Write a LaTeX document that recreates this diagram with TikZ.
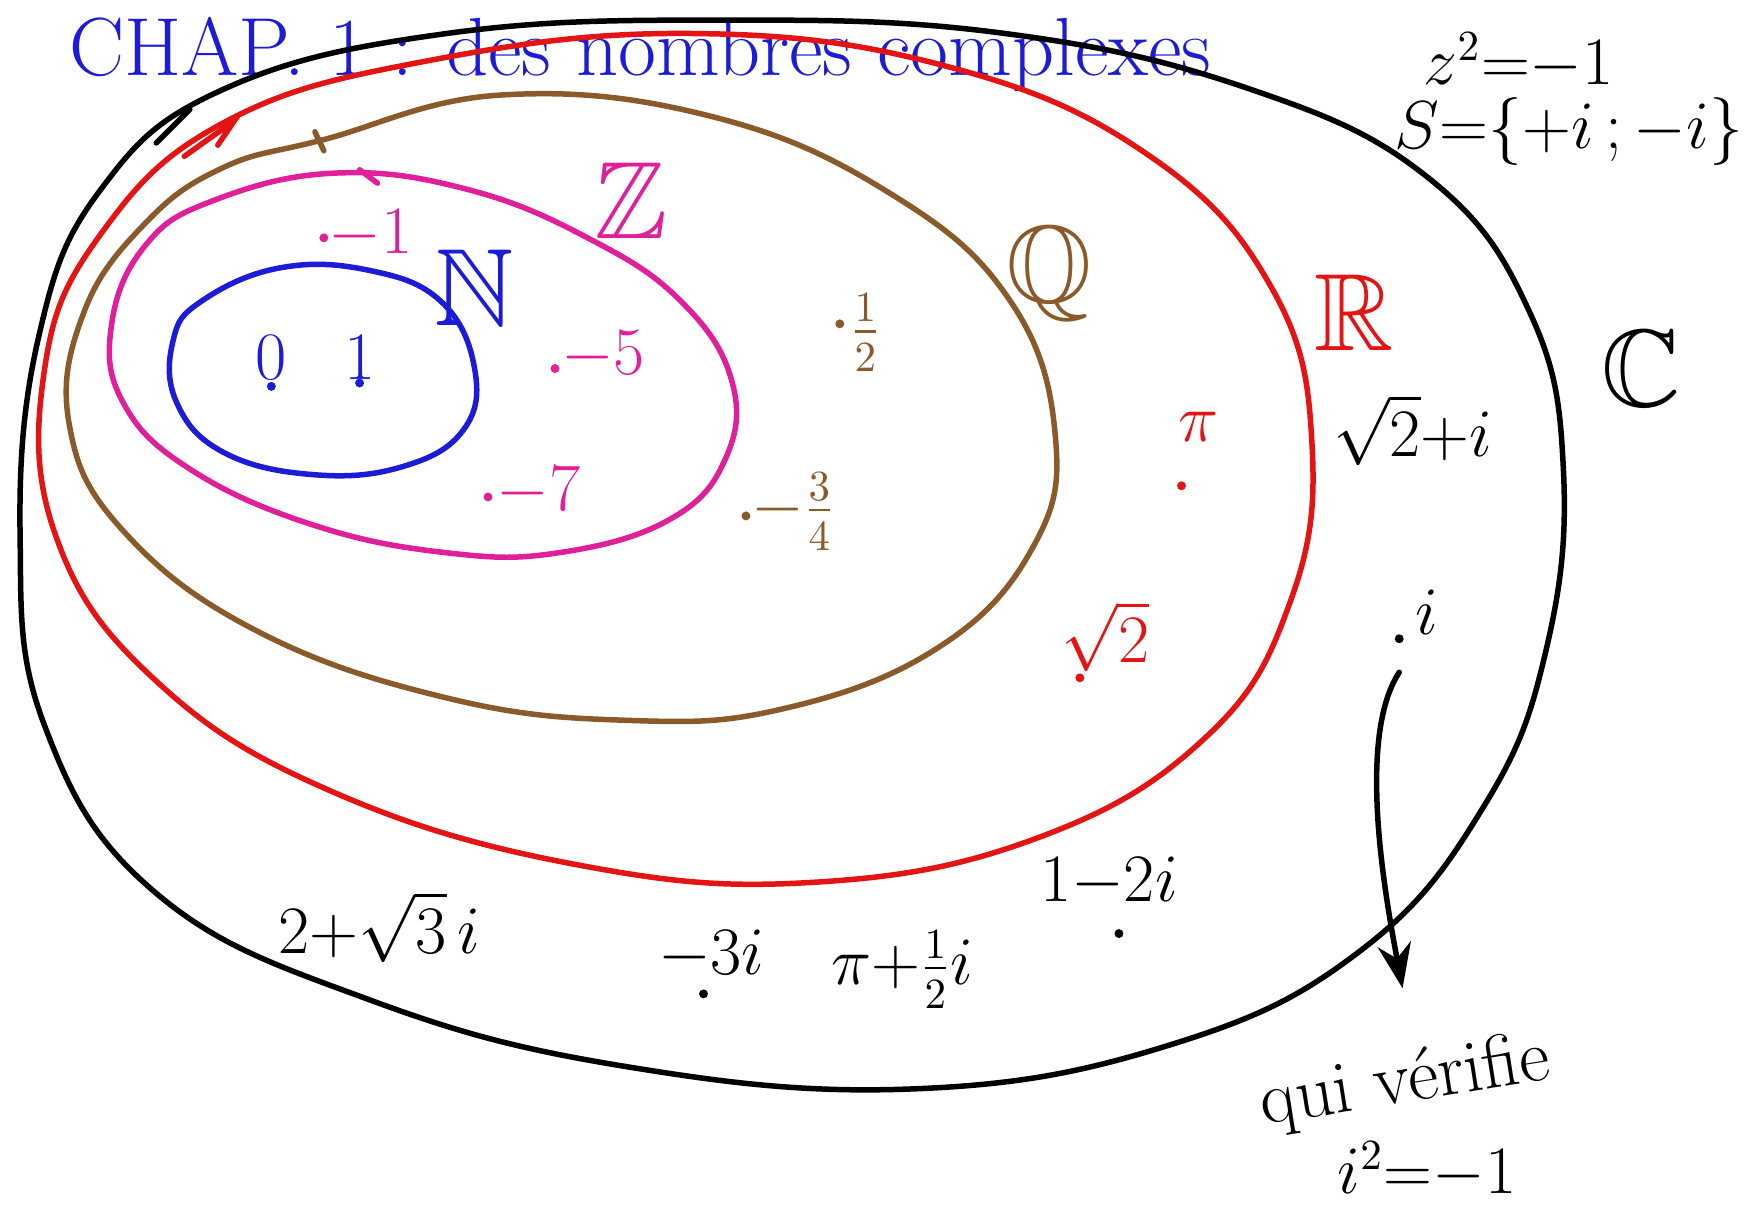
\documentclass[tikz,border=0pt]{standalone}
\usepackage{amsmath}
\usepackage{amssymb}
\usepackage{xcolor}
\usetikzlibrary{arrows.meta}
\definecolor{ensblue}{HTML}{1C1CD8}
\definecolor{ensmag}{HTML}{E0209A}
\definecolor{ensbrown}{HTML}{8A5A2A}
\definecolor{ensred}{HTML}{E41414}

\begin{document}
\begin{tikzpicture}[x=0.01cm, y=-0.01cm, every node/.style={font=\fontsize{16}{19}\selectfont, inner sep=1pt}, border/.style={line width=1.4pt, line cap=round}, setname/.style={font=\fontsize{28}{32}\selectfont}, pnt/.style={circle, fill, inner sep=0pt, minimum size=0.8mm}]
\useasboundingbox (0,0) rectangle (1568,1100);
\node[anchor=base west, text=ensblue, font=\fontsize{21}{24}\selectfont] (title) at (58,68) {CHAP.~1 : des nombres complexes};
% the nested sets
\draw[border] plot[smooth cycle, tension=0.7] coordinates {(400,30) (650,18) (900,30) (1120,80) (1280,160) (1370,280) (1400,420) (1385,580) (1330,720) (1220,850) (1050,935) (820,975) (560,955) (330,895) (140,800) (40,650) (18,480) (35,300) (90,170) (200,80)};
\draw[border, ensred] plot[smooth cycle, tension=0.7] coordinates {(200,110) (380,55) (620,30) (850,60) (1030,140) (1140,260) (1175,400) (1155,540) (1080,660) (930,750) (730,790) (520,775) (300,710) (140,610) (50,480) (40,330) (90,210)};
\draw[border, ensbrown] plot[smooth cycle, tension=0.7] coordinates {(290,125) (450,85) (640,105) (800,175) (905,270) (945,390) (925,490) (840,580) (700,635) (560,645) (400,625) (230,565) (110,475) (62,380) (75,280) (130,200) (200,150)};
\draw[border, ensmag] plot[smooth cycle, tension=0.7] coordinates {(190,180) (300,155) (420,170) (530,215) (610,270) (655,340) (650,410) (600,465) (500,495) (400,495) (280,470) (170,420) (110,360) (100,290) (130,220)};
\draw[border, ensblue] plot[smooth cycle, tension=0.7] coordinates {(180,270) (250,240) (330,242) (395,270) (425,330) (415,385) (360,418) (280,425) (200,405) (158,360) (155,305)};
% pen strokes where the curves start
\draw[border] (140,128) -- (170,98);
\draw[border, ensred] (165,140) -- (210,108) -- (195,130);
\draw[border, ensbrown] (282,118) -- (290,135);
\draw[border, ensmag] (322,152) -- (338,164);
% names of the sets
\node[setname, text=ensblue] (N) at (425,258) {$\mathbb{N}$};
\node[setname, text=ensmag] (Z) at (565,180) {$\mathbb{Z}$};
\node[setname, text=ensbrown] (Q) at (940,245) {$\mathbb{Q}$};
\node[setname, text=ensred] (R) at (1213,280) {$\mathbb{R}$};
\node[setname] (C) at (1470,330) {$\mathbb{C}$};
% elements
\node[text=ensblue] (zero) at (243,320) {$0$};
\node[pnt, ensblue] (zerodot) at (243,346) {};
\node[text=ensblue] (one) at (322,320) {$1$};
\node[pnt, ensblue] (onedot) at (322,343) {};
\node[pnt, ensmag] (m1dot) at (290,213) {};
\node[text=ensmag] (m1) at (332,210) {$-1$};
\node[pnt, ensmag] (m5dot) at (497,330) {};
\node[text=ensmag, font=\fontsize{19}{22}\selectfont] (m5) at (540,318) {$-5$};
\node[pnt, ensmag] (m7dot) at (437,445) {};
\node[text=ensmag, font=\fontsize{19}{22}\selectfont] (m7) at (482,440) {$-7$};
\node[pnt, ensbrown] (halfdot) at (752,290) {};
\node[text=ensbrown] (half) at (775,298) {$\frac{1}{2}$};
\node[pnt, ensbrown] (m34dot) at (668,462) {};
\node[text=ensbrown] (m34) at (710,458) {$-\frac{3}{4}$};
\node[text=ensred, font=\fontsize{19}{22}\selectfont] (pi) at (1073,382) {$\pi$};
\node[pnt, ensred] (pidot) at (1058,435) {};
\node[text=ensred] (sq2) at (990,570) {$\sqrt{2}$};
\node[pnt, ensred] (sq2dot) at (967,607) {};
\node (sq2i) at (1265,385) {$\sqrt{2}{+}i$};
\node[pnt] (idot) at (1253,572) {};
\node (i) at (1278,548) {$i$};
\node (z1) at (340,830) {$2{+}\sqrt{3}\,i$};
\node (z2) at (637,855) {$-3i$};
\node[pnt] (z2dot) at (630,890) {};
\node (z3) at (808,868) {$\pi{+}\frac{1}{2}i$};
\node (z4) at (993,790) {$1{-}2i$};
\node[pnt] (z4dot) at (1002,836) {};
% the equation
\node (eq) at (1360,55) {$z^2{=}{-}1$};
\node (sol) at (1405,118) {$S{=}\{{+}i\,;{-}i\}$};
\node[rotate=9, font=\fontsize{19}{22}\selectfont] (qui) at (1258,970) {qui vérifie};
\node (isq) at (1278,1048) {$i^2{=}{-}1$};
\draw[border, -{Stealth[length=4mm, width=3mm]}] ([yshift=-3mm]idot.center) .. controls (1215,660) and (1240,800) .. (1256,885);
\end{tikzpicture}
\end{document}
